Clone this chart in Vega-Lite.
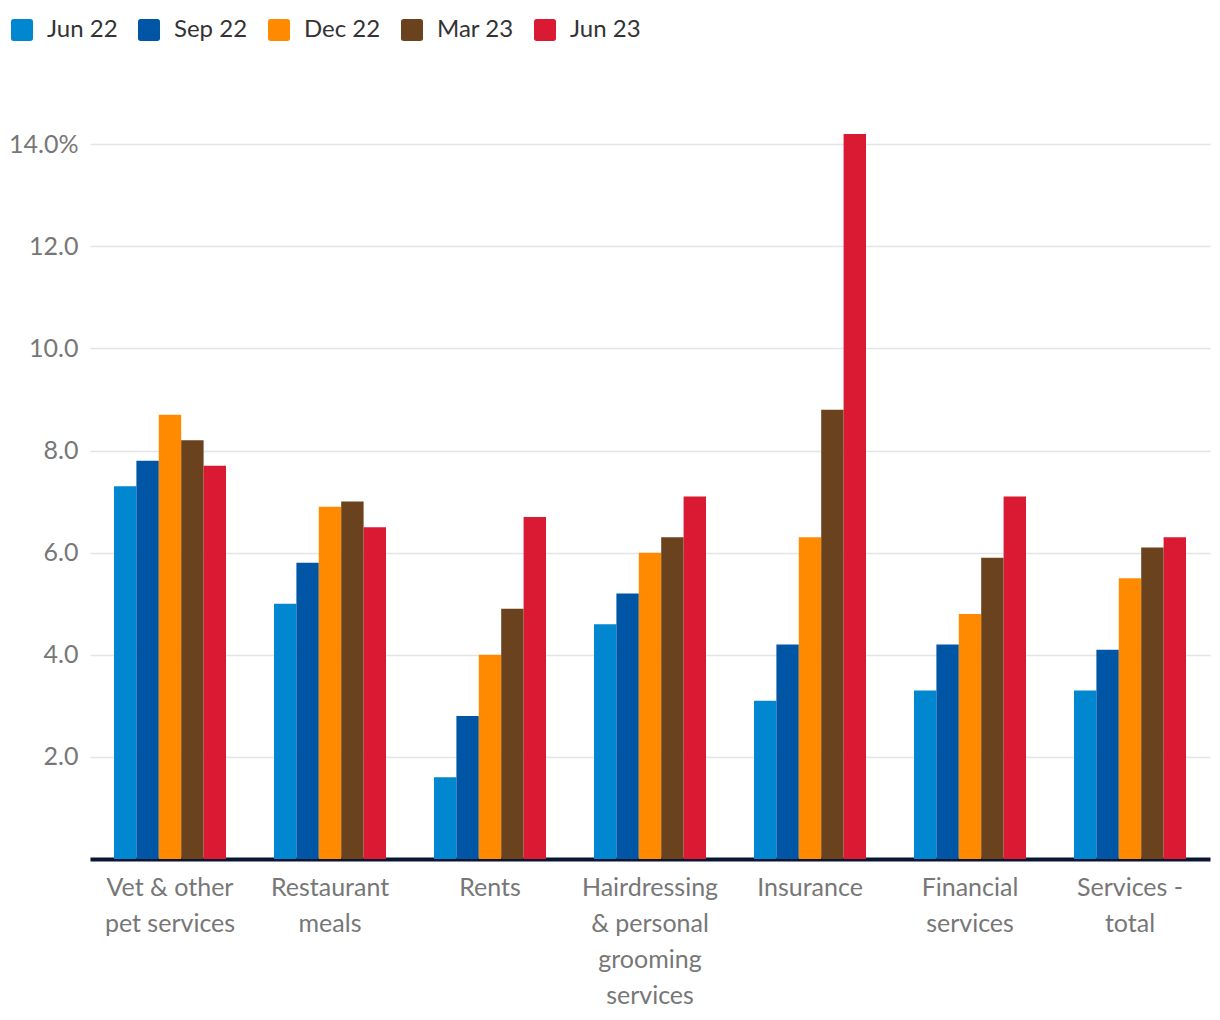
{
  "$schema": "https://vega.github.io/schema/vega-lite/v6.json",
  "autosize": {"type": "none"},
  "width": 1120,
  "height": 725,
  "padding": {"left": 90, "top": 134, "right": 10, "bottom": 161},
  "background": "white",
  "data": {
    "values": [
      {"category": "Vet & other pet services", "period": "Jun 22", "value": 7.3},
      {"category": "Vet & other pet services", "period": "Sep 22", "value": 7.8},
      {"category": "Vet & other pet services", "period": "Dec 22", "value": 8.7},
      {"category": "Vet & other pet services", "period": "Mar 23", "value": 8.2},
      {"category": "Vet & other pet services", "period": "Jun 23", "value": 7.7},
      {"category": "Restaurant meals", "period": "Jun 22", "value": 5.0},
      {"category": "Restaurant meals", "period": "Sep 22", "value": 5.8},
      {"category": "Restaurant meals", "period": "Dec 22", "value": 6.9},
      {"category": "Restaurant meals", "period": "Mar 23", "value": 7.0},
      {"category": "Restaurant meals", "period": "Jun 23", "value": 6.5},
      {"category": "Rents", "period": "Jun 22", "value": 1.6},
      {"category": "Rents", "period": "Sep 22", "value": 2.8},
      {"category": "Rents", "period": "Dec 22", "value": 4.0},
      {"category": "Rents", "period": "Mar 23", "value": 4.9},
      {"category": "Rents", "period": "Jun 23", "value": 6.7},
      {"category": "Hairdressing & personal grooming services", "period": "Jun 22", "value": 4.6},
      {"category": "Hairdressing & personal grooming services", "period": "Sep 22", "value": 5.2},
      {"category": "Hairdressing & personal grooming services", "period": "Dec 22", "value": 6.0},
      {"category": "Hairdressing & personal grooming services", "period": "Mar 23", "value": 6.3},
      {"category": "Hairdressing & personal grooming services", "period": "Jun 23", "value": 7.1},
      {"category": "Insurance", "period": "Jun 22", "value": 3.1},
      {"category": "Insurance", "period": "Sep 22", "value": 4.2},
      {"category": "Insurance", "period": "Dec 22", "value": 6.3},
      {"category": "Insurance", "period": "Mar 23", "value": 8.8},
      {"category": "Insurance", "period": "Jun 23", "value": 14.2},
      {"category": "Financial services", "period": "Jun 22", "value": 3.3},
      {"category": "Financial services", "period": "Sep 22", "value": 4.2},
      {"category": "Financial services", "period": "Dec 22", "value": 4.8},
      {"category": "Financial services", "period": "Mar 23", "value": 5.9},
      {"category": "Financial services", "period": "Jun 23", "value": 7.1},
      {"category": "Services - total", "period": "Jun 22", "value": 3.3},
      {"category": "Services - total", "period": "Sep 22", "value": 4.1},
      {"category": "Services - total", "period": "Dec 22", "value": 5.5},
      {"category": "Services - total", "period": "Mar 23", "value": 6.1},
      {"category": "Services - total", "period": "Jun 23", "value": 6.3}
    ]
  },
  "mark": {"type": "bar"},
  "encoding": {
    "x": {
      "field": "category",
      "type": "nominal",
      "sort": null,
      "scale": {"paddingInner": 0.3, "paddingOuter": 0.15},
      "axis": {
        "title": null,
        "labelAngle": 0,
        "ticks": false,
        "domainColor": "#0c1633",
        "domainWidth": 4,
        "labelFont": "Lato",
        "labelFontSize": 25,
        "labelColor": "#777777",
        "labelPadding": 16,
        "labelLineHeight": 36,
        "labelLimit": 0,
        "labelExpr": "datum.label == 'Vet & other pet services' ? ['Vet & other', 'pet services'] : datum.label == 'Restaurant meals' ? ['Restaurant', 'meals'] : datum.label == 'Hairdressing & personal grooming services' ? ['Hairdressing', '& personal', 'grooming', 'services'] : datum.label == 'Financial services' ? ['Financial', 'services'] : datum.label == 'Services - total' ? ['Services -', 'total'] : datum.label"
      }
    },
    "xOffset": {
      "field": "period",
      "type": "nominal",
      "sort": ["Jun 22", "Sep 22", "Dec 22", "Mar 23", "Jun 23"],
      "scale": {"paddingInner": 0, "paddingOuter": 0}
    },
    "y": {
      "field": "value",
      "type": "quantitative",
      "scale": {"domain": [0, 14.2], "nice": false},
      "axis": {
        "title": null,
        "domain": false,
        "ticks": false,
        "values": [0, 2, 4, 6, 8, 10, 12, 14],
        "gridColor": "#e4e4e4",
        "gridWidth": 1.5,
        "labelFont": "Lato",
        "labelFontSize": 25,
        "labelColor": "#777777",
        "labelPadding": 12,
        "labelExpr": "datum.value == 0 ? '' : datum.value == 14 ? '14.0%' : format(datum.value, '.1f')"
      }
    },
    "color": {
      "field": "period",
      "type": "nominal",
      "sort": ["Jun 22", "Sep 22", "Dec 22", "Mar 23", "Jun 23"],
      "scale": {
        "domain": ["Jun 22", "Sep 22", "Dec 22", "Mar 23", "Jun 23"],
        "range": ["#0087d0", "#0055a5", "#ff8a00", "#6b421e", "#da1a32"]
      },
      "legend": {
        "title": null,
        "orient": "none",
        "direction": "horizontal",
        "legendX": -80,
        "legendY": -116,
        "symbolType": "M-1,-0.75 Q-1,-1 -0.75,-1 L0.75,-1 Q1,-1 1,-0.75 L1,0.75 Q1,1 0.75,1 L-0.75,1 Q-1,1 -1,0.75 Z",
        "symbolSize": 484,
        "symbolStrokeWidth": 0,
        "labelFont": "Lato",
        "labelFontSize": 24,
        "labelColor": "#333333",
        "labelOffset": 13,
        "columnPadding": 19
      }
    }
  },
  "config": {"view": {"stroke": null}}
}
